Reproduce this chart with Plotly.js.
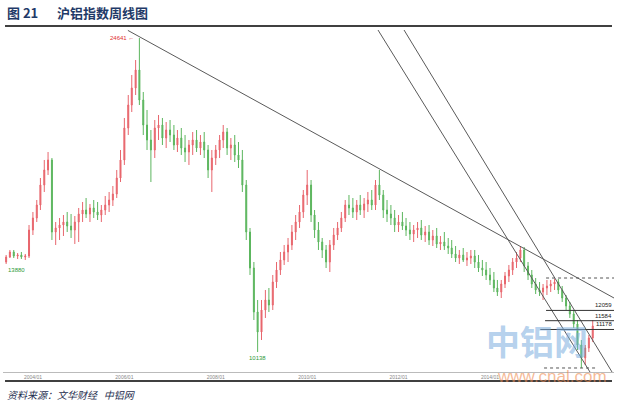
<!DOCTYPE html>
<html><head><meta charset="utf-8">
<script src="https://cdn.plot.ly/plotly-3.0.1.min.js"></script>
<style>html,body{margin:0;padding:0;background:#fff;}#chart{width:618px;height:403px;}</style>
</head><body><div id="chart"></div>
<script>
// monthly bars (visual resampling of the weekly chart)
const months = [
'2003-06','2003-07','2003-08','2003-09','2003-10','2003-11','2003-12',
'2004-01','2004-02','2004-03','2004-04','2004-05','2004-06','2004-07','2004-08','2004-09','2004-10','2004-11','2004-12',
'2005-01','2005-02','2005-03','2005-04','2005-05','2005-06','2005-07','2005-08','2005-09','2005-10','2005-11','2005-12',
'2006-01','2006-02','2006-03','2006-04','2006-05','2006-06','2006-07','2006-08','2006-09','2006-10','2006-11','2006-12',
'2007-01','2007-02','2007-03','2007-04','2007-05','2007-06','2007-07','2007-08','2007-09','2007-10','2007-11','2007-12',
'2008-01','2008-02','2008-03','2008-04','2008-05','2008-06','2008-07','2008-08','2008-09','2008-10','2008-11','2008-12',
'2009-01','2009-02','2009-03','2009-04','2009-05','2009-06','2009-07','2009-08','2009-09','2009-10','2009-11','2009-12',
'2010-01','2010-02','2010-03','2010-04','2010-05','2010-06','2010-07','2010-08','2010-09','2010-10','2010-11','2010-12',
'2011-01','2011-02','2011-03','2011-04','2011-05','2011-06','2011-07','2011-08','2011-09','2011-10','2011-11','2011-12',
'2012-01','2012-02','2012-03','2012-04','2012-05','2012-06','2012-07','2012-08','2012-09','2012-10','2012-11','2012-12',
'2013-01','2013-02','2013-03','2013-04','2013-05','2013-06','2013-07','2013-08','2013-09','2013-10','2013-11','2013-12',
'2014-01','2014-02','2014-03','2014-04','2014-05','2014-06','2014-07','2014-08','2014-09','2014-10','2014-11','2014-12',
'2015-01','2015-02','2015-03','2015-04','2015-05','2015-06','2015-07','2015-08','2015-09','2015-10','2015-11','2015-12',
'2016-01','2016-02','2016-03','2016-04'];

const openP = [
14295,14526,14757,14572,14619,14526,14572,
15773,16328,16928,17852,18545,19007,15681,15866,16004,16143,15958,15773,
16143,16512,16697,16512,16790,16605,16466,16697,16928,17159,17436,18175,
19007,20485,21547,22332,23164,21778,20623,19930,19469,20485,20623,20023,
20392,20161,19699,20023,19561,19376,19699,19930,19561,19838,19469,18545,
19099,19469,19930,20300,19561,19699,19238,19007,17852,15681,14018,11986,
11062,12078,12540,12309,13371,13926,14388,14757,15080,15681,16143,16605,
17390,17852,16466,15773,15219,14850,14295,15080,15542,15866,16328,16928,
16790,16605,16928,16697,16974,17159,16928,17852,17390,16697,16512,16328,
16004,16143,15958,15773,15589,15773,15866,15542,15681,15311,15496,15127,
15219,15034,14942,14665,14480,14619,14388,14480,14572,14295,14018,13926,
13695,13464,13094,12909,13279,13649,13926,14295,14480,14850,14110,13695,
13279,13002,12909,13094,13187,13279,13371,13002,12632,12263,11893,11431,
10461,9861,10323,10785];

const highP = [
14619,14850,14850,14711,14757,14665,16004,
16605,17159,18175,19007,19376,19099,16143,16328,16466,16605,16512,16420,
16790,17067,17251,16974,17159,17067,16928,17344,17529,17806,18545,19469,
20947,22009,22933,23626,24641,22148,21316,20392,20854,21085,20947,20762,
20854,20623,20392,20485,20161,19930,20300,20392,20161,20300,19699,19469,
19699,20161,20623,20485,20023,20161,19838,19469,18083,15866,14295,12540,
12540,13002,13094,13695,14295,14757,15080,15404,16004,16466,16928,17621,
18545,18083,16697,16143,15404,15080,15311,15866,16143,16605,17159,17390,
17251,17159,17390,17251,17529,17621,18083,18545,17621,17159,16928,16697,
16466,16605,16328,16143,16004,16143,16235,15958,16004,15773,15866,15496,
15681,15404,15311,15034,14850,14942,14757,14850,14850,14619,14388,14295,
14018,13833,13464,13464,13833,14157,14480,14757,15034,14988,14295,13926,
13556,13371,13279,13464,13464,13510,13510,13187,12771,12448,12078,11616,
10692,10461,10923,11616];

const lowP = [
14203,14480,14480,14434,14434,14388,14480,
15542,16143,16697,17529,18314,15311,15080,15311,15496,15681,15404,15127,
15219,16143,16328,16143,16328,16235,16143,16466,16605,16882,17251,17990,
18776,20161,21224,22009,21547,20161,19469,17990,19099,19930,19699,19561,
19838,19469,19376,19238,18914,18776,19238,19376,19238,19099,18175,17529,
18776,19099,19561,19238,19007,18914,18637,17529,15311,13695,11616,10138,
10692,11709,11986,12078,13094,13695,14157,14295,14850,15311,15866,16328,
16928,16143,15404,14850,14480,14018,13833,14850,15311,15681,16143,16466,
16328,16235,16466,16328,16605,16697,16697,17159,16328,16143,16004,15681,
15681,15773,15496,15311,15219,15404,15311,15219,15080,15034,14942,14850,
14850,14665,14480,14295,14203,14295,14110,14203,14018,13833,13649,13464,
13233,12909,12725,12632,13094,13371,13695,14018,14295,13833,13464,13094,
12817,12725,12540,12771,12909,13002,12817,12448,12078,11709,11247,10231,
9399,9538,10138,10600];

const closeP = [
14526,14757,14572,14619,14526,14572,15773,
16328,16928,17852,18545,19007,15681,15866,16004,16143,15958,15773,16143,
16512,16697,16512,16790,16605,16466,16697,16928,17159,17436,18175,19007,
20485,21547,22332,23164,21778,20623,19930,19469,20485,20623,20023,20392,
20161,19699,20023,19561,19376,19699,19930,19561,19838,19469,18545,19099,
19469,19930,20300,19561,19699,19238,19007,17852,15681,14018,11986,11062,
12078,12540,12309,13371,13926,14388,14757,15080,15681,16143,16605,17390,
17852,16466,15773,15219,14850,14295,15080,15542,15866,16328,16928,16790,
16605,16928,16697,16974,17159,16928,17852,17390,16697,16512,16328,16004,
16143,15958,15773,15589,15773,15866,15542,15681,15311,15496,15127,15219,
15034,14942,14665,14480,14619,14388,14480,14572,14295,14018,13926,13695,
13464,13094,12909,13279,13649,13926,14295,14480,14850,14110,13695,13279,
13002,12909,13094,13187,13279,13371,13002,12632,12263,11893,11431,10461,
9861,10323,10785,11339];

// tick labels
const tickDates = ['2004-01-01','2006-01-01','2008-01-01','2010-01-01','2012-01-01','2014-01-01'];
const tickText  = ['2004/01','2006/01','2008/01','2010/01','2012/01','2014/01'];

// drawn analysis lines (date, price endpoints)
const resistX = ['2006-01-29','2016-09-18'];
const resistY = [24993, 12632];
const steepAX = ['2011-07-21','2016-03-10'];
const steepAY = [25011, 9214];
const steepBX = ['2012-02-14','2016-09-02'];
const steepBY = [25011, 9214];

const levelVals  = [12059, 11584, 11178];
const levelStart = ['2015-03-25','2015-03-17','2015-02-07'];
const dotVals    = [13556, 9399];
const dotStart   = ['2015-03-25','2015-03-09'];
const dotEnd     = ['2016-09-18','2016-05-05'];
const chartEnd   = '2016-09-18';

// marked extremes
const peakDate = '2006-05', peakVal = 24641;
const lowDate = '2008-12', lowVal = 10138;
const startDate = '2003-06', startLow = 14203, startLabel = '13880';

const traces = [];
traces.push({
  type:'candlestick', x:months, open:openP, high:highP, low:lowP, close:closeP,
  increasing:{line:{color:'#e8666d', width:1}, fillcolor:'#e8666d'},
  decreasing:{line:{color:'#5cb65e', width:1}, fillcolor:'#5cb65e'},
  whiskerwidth:0, hoverinfo:'skip', showlegend:false
});
const lineStyle = {color:'#5a5a5a', width:1};
traces.push({type:'scatter', mode:'lines', x:resistX, y:resistY, line:lineStyle, hoverinfo:'skip', showlegend:false});
traces.push({type:'scatter', mode:'lines', x:steepAX, y:steepAY, line:lineStyle, hoverinfo:'skip', showlegend:false});
traces.push({type:'scatter', mode:'lines', x:steepBX, y:steepBY, line:lineStyle, hoverinfo:'skip', showlegend:false});
levelVals.forEach((v,i)=>{
  traces.push({type:'scatter', mode:'lines', x:[levelStart[i], chartEnd], y:[v,v], line:{color:'#333', width:1}, hoverinfo:'skip', showlegend:false});
});
dotVals.forEach((v,i)=>{
  traces.push({type:'scatter', mode:'lines', x:[dotStart[i], dotEnd[i]], y:[v,v], line:{color:'#555', width:1, dash:'dot'}, hoverinfo:'skip', showlegend:false});
});

const tiny = {family:'Liberation Sans, Arial, sans-serif', size:6};
const annotations = [
  {xref:'paper', yref:'paper', x:0.0033, y:1.0465, xanchor:'left', yanchor:'middle', showarrow:false,
   text:'<b>图 21</b>', font:{family:'Noto Sans CJK SC, sans-serif', size:13, color:'#1f3a68'}},
  {xref:'paper', yref:'paper', x:0.0851, y:1.0465, xanchor:'left', yanchor:'middle', showarrow:false,
   text:'<b>沪铝指数周线图</b>', font:{family:'Noto Sans CJK SC, sans-serif', size:13, color:'#1f3a68'}},
  {xref:'paper', yref:'paper', x:0.0033, y:-0.064, xanchor:'left', yanchor:'middle', showarrow:false,
   text:'资料来源：文华财经   中铝网', font:{family:'Noto Sans CJK SC, sans-serif', size:10, color:'#1f2f50', style:'italic'}},
  {xref:'paper', yref:'paper', x:0.874, y:0.092, xanchor:'center', yanchor:'middle', showarrow:false,
   text:'<b>中铝网</b>', font:{family:'Noto Sans CJK SC, sans-serif', size:34, color:'rgba(120,172,222,0.55)'}},
  {xref:'paper', yref:'paper', x:0.8985, y:-0.012, xanchor:'center', yanchor:'middle', showarrow:false,
   text:'www.cnal.com', font:{family:'Liberation Sans, Arial, sans-serif', size:17, color:'rgba(240,140,80,0.6)'}},
  {x:peakDate, y:peakVal, xref:'x', yref:'y', xanchor:'right', yanchor:'middle', xshift:-3, showarrow:false,
   text:'24641 ←', font:Object.assign({}, tiny, {color:'#e03030'})},
  {x:lowDate, y:lowVal, xref:'x', yref:'y', xanchor:'center', yanchor:'top', yshift:-1, showarrow:false,
   text:String(lowVal), font:Object.assign({}, tiny, {color:'#2e9a3a'})},
  {x:startDate, y:startLow, xref:'x', yref:'y', xanchor:'left', yanchor:'top', yshift:-1, showarrow:false,
   text:startLabel, font:Object.assign({}, tiny, {color:'#2e9a3a'})}
];
levelVals.forEach(v=>{
  annotations.push({x:1, xref:'paper', y:v, yref:'y', xanchor:'right', yanchor:'bottom', showarrow:false,
    text:String(v), font:Object.assign({}, tiny, {color:'#222'})});
});

const layout = {
  width:618, height:403, paper_bgcolor:'#fff', plot_bgcolor:'#fff',
  margin:{l:3, r:4, t:28, b:31},
  showlegend:false, boxgap:0.6,
  xaxis:{type:'date', range:['2003-05-07','2016-09-18'], rangeslider:{visible:false},
    tickvals:tickDates, ticktext:tickText, tickfont:{family:'Liberation Sans, Arial, sans-serif', size:5, color:'#888'},
    showgrid:false, zeroline:false, showline:true, linecolor:'#bbb', linewidth:1, ticks:'', fixedrange:true},
  yaxis:{range:[9214, 25104], visible:false, showgrid:false, zeroline:false, fixedrange:true},
  shapes:[
    {type:'line', xref:'paper', yref:'paper', x0:0.0033, x1:0.9967, y0:1.0058, y1:1.0058, line:{color:'#000', width:1.5}},
    {type:'line', xref:'paper', yref:'paper', x0:0.0033, x1:0.9967, y0:-0.0262, y1:-0.0262, line:{color:'#000', width:1.5}}
  ],
  annotations:annotations
};
Plotly.newPlot('chart', traces, layout, {staticPlot:true, displayModeBar:false});
</script></body></html>
